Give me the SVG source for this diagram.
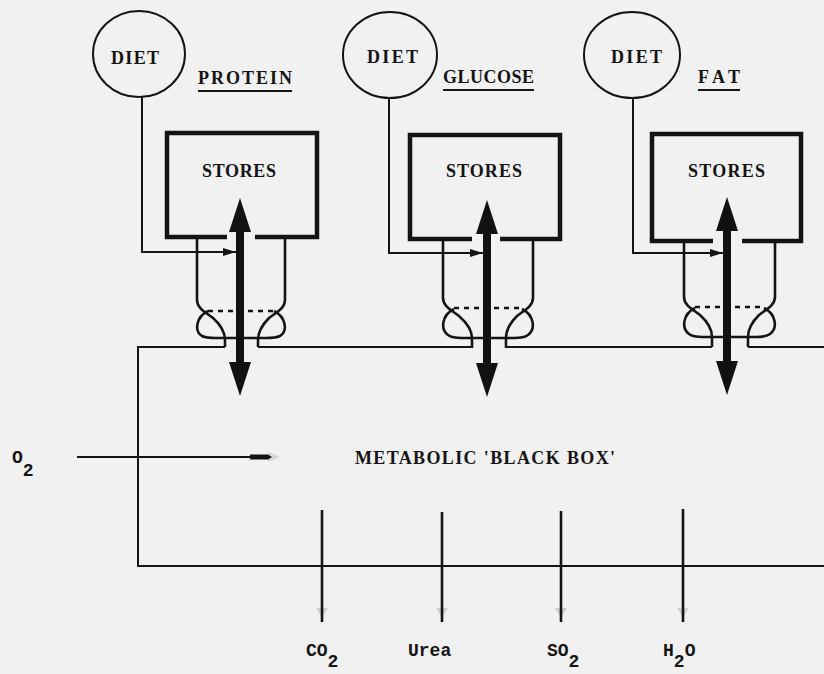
<svg xmlns="http://www.w3.org/2000/svg" width="824" height="674" viewBox="0 0 824 674">
<defs>
<style>
.t{font-family:"Liberation Serif","DejaVu Serif",serif;font-weight:bold;font-size:18px;fill:#141414}
.s{font-family:"Liberation Mono","DejaVu Sans Mono",monospace;font-weight:bold;font-size:18px;fill:#141414}
.thin{fill:none;stroke:#141414;stroke-width:2}
.wall{fill:none;stroke:#141414;stroke-width:2.6;stroke-linejoin:round}
.box{fill:none;stroke:#141414;stroke-width:4.5}
.dash{fill:none;stroke:#141414;stroke-width:2.4;stroke-dasharray:5 5}
.arr{fill:#111}
.ul{stroke:#141414;stroke-width:1.8}
</style>
<marker id="ah" markerWidth="14" markerHeight="10" refX="13" refY="5" orient="auto" markerUnits="userSpaceOnUse">
<path d="M0,1 L13,5 L0,9 Z" fill="#141414"/>
</marker>
</defs>
<rect width="824" height="674" fill="#f1f1f1"/>

<g id="protein">
<ellipse cx="139" cy="54" rx="46" ry="43" class="thin"/>
<text x="111" y="64" class="t" textLength="48" lengthAdjust="spacing">DIET</text>
<text x="198" y="84" class="t" textLength="94" lengthAdjust="spacing">PROTEIN</text>
<line x1="198" y1="91" x2="292" y2="91" class="ul"/>
<path d="M227,237 H167 V133 H317 V237 H255" class="box"/>
<text x="202" y="177" class="t" textLength="74" lengthAdjust="spacing">STORES</text>
</g>

<g id="glucose">
<ellipse cx="390" cy="55" rx="47" ry="43" class="thin"/>
<text x="367" y="63" class="t" textLength="51" lengthAdjust="spacing">DIET</text>
<text x="443" y="83" class="t" textLength="91" lengthAdjust="spacing">GLUCOSE</text>
<line x1="443" y1="90" x2="534" y2="90" class="ul"/>
<path d="M472,239 H410 V135 H560 V239 H500" class="box"/>
<text x="446" y="177" class="t" textLength="76" lengthAdjust="spacing">STORES</text>
</g>

<g id="fat">
<ellipse cx="632" cy="55" rx="48" ry="43" class="thin"/>
<text x="611" y="63" class="t" textLength="51" lengthAdjust="spacing">DIET</text>
<text x="698" y="83" class="t" textLength="42" lengthAdjust="spacing">FAT</text>
<line x1="698" y1="90" x2="740" y2="90" class="ul"/>
<path d="M713,241 H652 V134 H801 V241 H742" class="box"/>
<text x="688" y="177" class="t" textLength="77" lengthAdjust="spacing">STORES</text>
</g>

<g id="black-box">
<path d="M225,347 H138 V566 H824" class="thin"/>
<path d="M258,347 H472 M506,347 H712 M748,347 H824" class="thin"/>
<text x="355" y="464" class="t" textLength="260" lengthAdjust="spacing">METABOLIC 'BLACK BOX'</text>
</g>

<g id="tubes">
<path d="M197,237 V300 C197,308 205,312 213,318 C222,326 225,333 225,340 V347" class="wall"/>
<path d="M285,237 V300 C285,308 277,312 269,318 C261,326 258,333 258,340 V347" class="wall"/>
<path d="M208,311 C196,317 194,331 202,336 C206,338 211,338 216,338 H266 C271,338 276,338 280,336 C288,331 286,317 274,311" class="wall"/>
<path d="M208,311 H274" class="dash" stroke-dasharray="4 6"/>
<path d="M443,239 V298 C443,306 451,310 459,316 C468,324 472,331 472,338 V348" class="wall"/>
<path d="M533,239 V298 C533,306 525,310 517,316 C509,324 506,331 506,338 V348" class="wall"/>
<path d="M454,309 C442,315 440,329 448,335 C452,338 457,338 462,338 H514 C519,338 524,338 528,335 C536,329 534,315 522,309" class="wall"/>
<path d="M454,308 H522" class="dash"/>
<path d="M684,241 V297 C684,305 692,309 700,315 C709,323 712,330 712,337 V347" class="wall"/>
<path d="M775,241 V297 C775,305 767,309 759,315 C751,323 748,330 748,337 V347" class="wall"/>
<path d="M695,308 C683,314 681,328 689,334 C693,337 698,337 703,337 H756 C761,337 766,337 770,334 C778,328 776,314 764,308" class="wall"/>
<path d="M695,307 H764" class="dash"/>
</g>

<g id="connectors">
<path d="M142,97 V252 H236" class="thin" marker-end="url(#ah)"/>
<path d="M389,98 V253 H483" class="thin" marker-end="url(#ah)"/>
<path d="M633,98 V253 H723" class="thin" marker-end="url(#ah)"/>
<polygon class="arr" points="240,198 251,232 244,232 244,362 251,362 240,396 229,362 236,362 236,232 229,232"/>
<polygon class="arr" points="487,200 498,234 491,234 491,363 498,363 487,397 476,363 483,363 483,234 476,234"/>
<polygon class="arr" points="727,197 738,231 731,231 731,361 738,361 727,395 716,361 723,361 723,231 716,231"/>
<line x1="77" y1="457" x2="252" y2="457" stroke="#141414" stroke-width="2.2"/>
<path d="M250,454.5 H268 L272,457 L268,459.5 H250 Z" fill="#141414"/>
<path d="M268,452 L280,457 L268,462 Z" fill="#141414" opacity="0.12"/>
<g stroke="#141414" stroke-width="2.6">
<line x1="322" y1="510" x2="322" y2="622"/>
<line x1="442" y1="512" x2="442" y2="622"/>
<line x1="561" y1="511" x2="561" y2="622"/>
<line x1="683" y1="509" x2="683" y2="622"/>
</g>
<g fill="#141414" opacity="0.15">
<path d="M316,608 L328,608 L322,618 Z"/>
<path d="M436,608 L448,608 L442,618 Z"/>
<path d="M555,608 L567,608 L561,618 Z"/>
<path d="M677,608 L689,608 L683,618 Z"/>
</g>
</g>

<g id="labels">
<text x="12" y="463" class="s">O<tspan dy="13">2</tspan></text>
<text x="306" y="656" class="s">CO<tspan dy="11">2</tspan></text>
<text x="408" y="656" class="s">Urea</text>
<text x="547" y="656" class="s">SO<tspan dy="11">2</tspan></text>
<text x="663" y="656" class="s">H<tspan dy="11">2</tspan><tspan dy="-11">O</tspan></text>
</g>
</svg>
